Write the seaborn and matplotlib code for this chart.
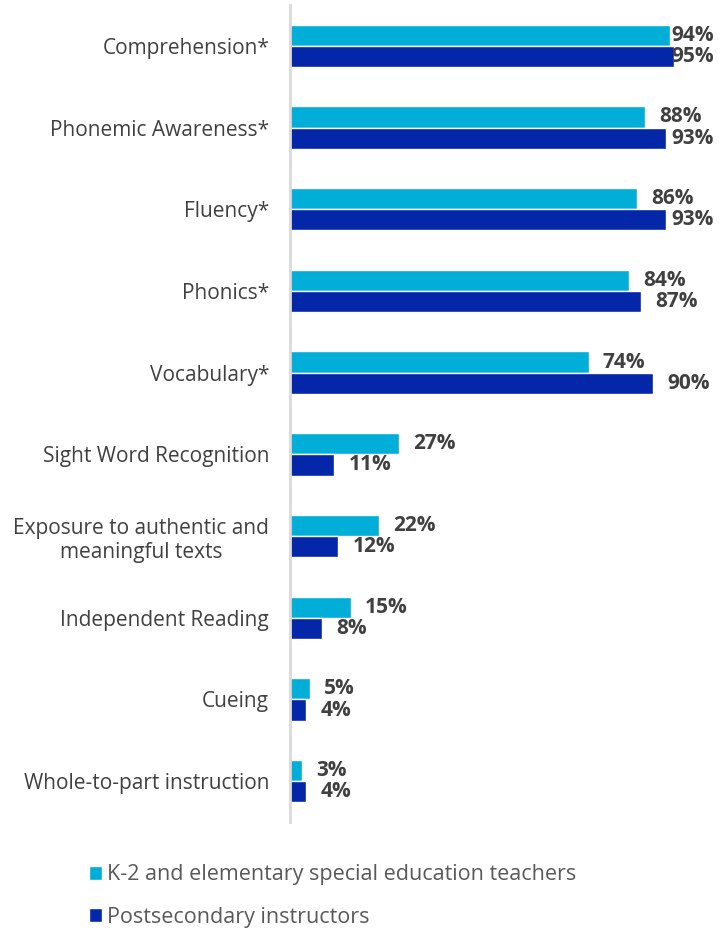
import pandas as pd
import seaborn as sns
from matplotlib import pyplot as plt
from matplotlib.patches import Patch

categories = [
    "Comprehension*",
    "Phonemic Awareness*",
    "Fluency*",
    "Phonics*",
    "Vocabulary*",
    "Sight Word Recognition",
    "Exposure to authentic and\nmeaningful texts",
    "Independent Reading",
    "Cueing",
    "Whole-to-part instruction",
]
teachers = [94, 88, 86, 84, 74, 27, 22, 15, 5, 3]
instructors = [95, 93, 93, 87, 90, 11, 12, 8, 4, 4]
series_names = ["K-2 and elementary special education teachers", "Postsecondary instructors"]

LIGHT = "#00AED8"
DARK = "#0426A8"
TEXT = "#404040"


def build_frame() -> pd.DataFrame:
    rows = []
    for cat, t, p in zip(categories, teachers, instructors):
        rows.append({"category": cat, "group": series_names[0], "value": t})
        rows.append({"category": cat, "group": series_names[1], "value": p})
    return pd.DataFrame(rows)


def main():
    df = build_frame()
    sns.set_theme(style="white")
    plt.rcParams["font.family"] = ["Open Sans", "DejaVu Sans"]

    fig = plt.figure(figsize=(7.28, 9.30), dpi=100)
    ax = fig.add_axes([290 / 728, 108 / 930, (714 - 290) / 728, (822 - 5) / 930])

    sns.barplot(
        data=df, y="category", x="value", hue="group", orient="h",
        palette=[LIGHT, DARK], width=0.52, legend=False, ax=ax,
        order=categories, hue_order=series_names, saturation=1,
    )

    ax.set_xlim(0, 105)
    ax.set_ylim(len(categories) - 0.5, -0.5)
    ax.set_xlabel("")
    ax.set_ylabel("")
    ax.set_xticks([])
    ax.tick_params(axis="y", length=0, pad=15, labelsize=15, labelcolor=TEXT)
    for lab in ax.get_yticklabels():
        lab.set_multialignment("center")

    for side in ["top", "right", "bottom"]:
        ax.spines[side].set_visible(False)
    ax.spines["left"].set_color("#D9D9D9")
    ax.spines["left"].set_linewidth(2)

    offset = 0.13
    for i, (t, p) in enumerate(zip(teachers, instructors)):
        for v, dy in ((t, -offset), (p, offset)):
            ax.text(min(v + 3.5, 94.5), i + dy, f"{v}%", ha="left", va="center",
                    fontsize=15, fontweight="bold", color=TEXT)

    handles = [Patch(facecolor=LIGHT), Patch(facecolor=DARK)]
    fig.legend(
        handles, series_names, loc="upper left", bbox_to_anchor=(70 / 728, 1 - 845 / 930),
        frameon=False, fontsize=15.5, labelcolor="#595959", handlelength=0.6,
        handleheight=0.6, handletextpad=0.2, labelspacing=1.0,
    )

    fig.savefig("out.png", dpi=100)
    plt.close(fig)


if __name__ == "__main__":
    main()
